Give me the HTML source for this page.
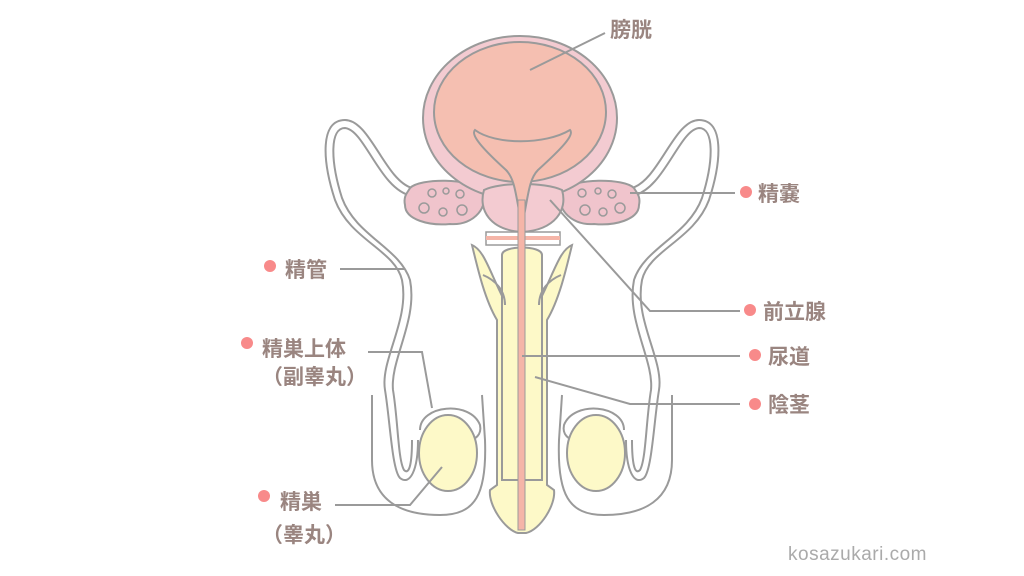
<!DOCTYPE html>
<html><head><meta charset="utf-8"><style>
html,body{margin:0;padding:0;background:#fff;width:1024px;height:576px;overflow:hidden}
svg{display:block}
.t{font-family:"Liberation Sans","Noto Sans CJK JP",sans-serif;font-weight:bold;font-size:21px;fill:#9a8580}
</style></head><body>
<svg width="1024" height="576" viewBox="0 0 1024 576">
<g fill="none" stroke="#9a9a9a" stroke-width="2">
<path d="M412,188 C385,180 370,120 345,120 C320,120 322,160 335,200 C350,240 395,250 402,280 C410,320 380,360 385,390 C390,420 392,470 400,478 C410,486 418,470 418,440" />
<path d="M412,196 C380,190 365,130 345,128 C330,128 330,160 342,198 C356,236 400,248 410,280 C418,320 390,360 393,390 C398,420 398,460 404,470 C410,476 412,460 412,440" />
<path d="M632,188 C659,180 674,120 699,120 C724,120 722,160 709,200 C694,240 649,250 642,280 C634,320 664,360 659,390 C654,420 652,470 644,478 C634,486 626,470 626,440" />
<path d="M632,196 C664,190 679,130 699,128 C714,128 714,160 702,198 C688,236 644,248 634,280 C626,320 654,360 651,390 C646,420 646,460 640,470 C634,476 632,460 632,440" />
<path d="M372,395 L372,460 C372,500 400,515 440,515 C475,515 487,495 485,440 L482,395" />
<path d="M672,395 L672,460 C672,500 644,515 604,515 C569,515 557,495 559,440 L562,395" />
<path d="M420,430 C420,405 470,400 480,425 C482,435 475,440 468,440" />
<path d="M624,430 C624,405 574,400 564,425 C562,435 569,440 576,440" />
</g>
<ellipse cx="448" cy="453" rx="29" ry="38" fill="#fdf9c8" stroke="#9a9a9a" stroke-width="2"/>
<ellipse cx="596" cy="453" rx="29" ry="38" fill="#fdf9c8" stroke="#9a9a9a" stroke-width="2"/>
<path d="M410,188 C420,178 470,178 482,190 C490,205 475,226 450,224 C430,226 405,220 405,205 C403,196 408,192 410,188Z" fill="#f0c4cc" stroke="#9a9a9a" stroke-width="2"/>
<path d="M634,188 C624,178 574,178 562,190 C554,205 569,226 594,224 C614,226 639,220 639,205 C641,196 636,192 634,188Z" fill="#f0c4cc" stroke="#9a9a9a" stroke-width="2"/>
<g fill="none" stroke="#9a9a9a" stroke-width="1.5">
<circle cx="432" cy="193" r="4"/><circle cx="446" cy="191" r="3"/><circle cx="460" cy="194" r="4"/><circle cx="424" cy="208" r="5"/><circle cx="443" cy="212" r="4"/><circle cx="462" cy="210" r="5"/>
<circle cx="582" cy="193" r="4"/><circle cx="598" cy="191" r="3"/><circle cx="612" cy="194" r="4"/><circle cx="585" cy="210" r="5"/><circle cx="603" cy="212" r="4"/><circle cx="620" cy="208" r="5"/>
</g>
<ellipse cx="520" cy="118" rx="97" ry="82" fill="#f3cbd1" stroke="#9a9a9a" stroke-width="2"/>
<ellipse cx="520" cy="112" rx="86" ry="70" fill="#f5bfb1" stroke="#9a9a9a" stroke-width="2"/>
<path d="M484,190 C500,182 545,182 562,190 C568,210 555,230 522,232 C490,230 478,210 484,190Z" fill="#f3cbd1" stroke="#9a9a9a" stroke-width="2"/>
<path d="M475,130 C495,145 545,145 570,130 C575,135 560,150 538,170 C528,180 528,200 522,225 C516,200 516,180 506,170 C484,150 470,135 475,130Z" fill="#f5bfb1" stroke="#9a9a9a" stroke-width="2"/>
<rect x="486" y="232" width="74" height="13" fill="#fff" stroke="#9a9a9a" stroke-width="1.5"/>
<rect x="486" y="236" width="74" height="4" fill="#f5b5a8"/>
<g fill="#fdf9c8" stroke="#9a9a9a" stroke-width="2">
<path d="M472,245 C478,270 485,300 497,320 L497,485 L490,490 C488,505 505,530 518,533 L526,533 C540,530 556,505 554,490 L547,485 L547,320 C559,300 566,270 572,245 C560,250 555,270 540,300 L504,300 C489,270 484,250 472,245Z"/>
<path d="M502,255 C502,245 542,245 542,255 L542,480 L502,480Z"/>
<path d="M483,275 C495,280 505,290 505,305 M561,275 C549,280 539,290 539,305" fill="none"/>
</g>
<rect x="518" y="200" width="7" height="330" fill="#f5b5a8" stroke="#9a9a9a" stroke-width="1"/>
<g fill="none" stroke="#9a9a9a" stroke-width="2">
<path d="M605,33 L530,70"/>
<path d="M735,193 L630,193"/>
<path d="M740,311 L650,311 L550,200"/>
<path d="M740,356 L522,356"/>
<path d="M740,404 L630,404 L535,377"/>
<path d="M340,269 L405,269"/>
<path d="M368,352 L422,352 L432,408"/>
<path d="M335,505 L410,505 L442,467"/>
</g>
<g fill="#f88a8a">
<circle cx="746" cy="192" r="6"/><circle cx="750" cy="310" r="6"/><circle cx="755" cy="355" r="6"/><circle cx="755" cy="404" r="6"/>
<circle cx="270" cy="266" r="6"/><circle cx="247" cy="343" r="6"/><circle cx="264" cy="496" r="6"/>
</g>
<text class="t" x="610" y="37">膀胱</text>
<text class="t" x="758" y="201">精嚢</text>
<text class="t" x="763" y="319">前立腺</text>
<text class="t" x="768" y="364">尿道</text>
<text class="t" x="768" y="412">陰茎</text>
<text class="t" x="285" y="277">精管</text>
<text class="t" x="262" y="356">精巣上体</text>
<text class="t" x="262" y="384">（副睾丸）</text>
<text class="t" x="280" y="509">精巣</text>
<text class="t" x="262" y="542">（睾丸）</text>
<text x="788" y="560" style="font-family:'Liberation Sans',sans-serif;font-size:19px;fill:#aaa;letter-spacing:0.5px">kosazukari.com</text>
</svg>
</body></html>
